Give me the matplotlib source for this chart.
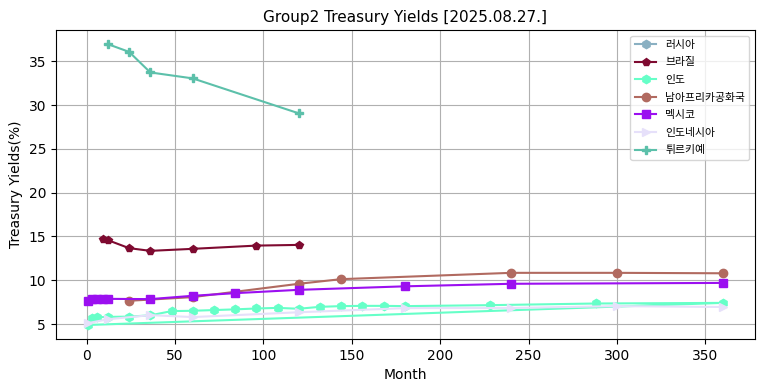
import matplotlib
matplotlib.use("Agg")
import matplotlib.pyplot as plt

plt.rcParams['font.family'] = ['DejaVu Sans', 'Noto Sans CJK KR']

title = "Group2 Treasury Yields [2025.08.27.]"

names = ["러시아", "브라질", "인도", "남아프리카공화국", "멕시코", "인도네시아", "튀르키예"]

russia_x = []
russia_y = []

brazil_x = [9, 12, 24, 36, 60, 96, 120]
brazil_y = [14.73, 14.58, 13.67, 13.36, 13.59, 13.96, 14.04]

india_x = [3, 6, 12, 24, 36, 48, 60, 72, 84, 96, 108, 120, 132, 144, 156, 168, 180, 228, 288, 360, 1]
india_y = [5.7, 5.78, 5.82, 5.85, 6.0, 6.48, 6.52, 6.6, 6.68, 6.78, 6.85, 6.75, 6.97, 7.05, 7.08, 7.08, 7.05, 7.16, 7.35, 7.42, 4.9]

safrica_x = [24, 60, 120, 144, 240, 300, 360]
safrica_y = [7.66, 8.08, 9.6, 10.13, 10.85, 10.85, 10.8]

mexico_x = [1, 3, 6, 9, 12, 36, 60, 84, 120, 180, 240, 360]
mexico_y = [7.66, 7.82, 7.85, 7.87, 7.88, 7.85, 8.23, 8.53, 8.91, 9.31, 9.6, 9.7]

indonesia_x = [0.5, 12, 36, 60, 120, 180, 240, 300, 360]
indonesia_y = [5.1, 5.55, 6.02, 5.8, 6.35, 6.82, 6.84, 7.05, 6.95]

turkey_x = [12, 24, 36, 60, 120]
turkey_y = [36.96, 36.08, 33.73, 33.05, 29.06]

series = [
    (russia_x, russia_y, '#8ab0c2', 'h'),
    (brazil_x, brazil_y, '#7e0a30', 'p'),
    (india_x, india_y, '#66ffc8', 'h'),
    (safrica_x, safrica_y, '#b16a60', 'o'),
    (mexico_x, mexico_y, '#9b0ff0', 's'),
    (indonesia_x, indonesia_y, '#e6e0fa', '>'),
    (turkey_x, turkey_y, '#5cc0aa', 'P'),
]

fig = plt.figure(figsize=(7.64, 3.91), dpi=100)
ax = fig.add_subplot(111)
fig.subplots_adjust(left=0.073, right=0.988, bottom=0.133, top=0.923)

for name, (xs, ys, c, m) in zip(names, series):
    ax.plot(xs, ys, color=c, marker=m, label=name, markersize=6, linewidth=1.5)

ax.set_title(title, fontsize=11)
ax.set_xlabel("Month", fontsize=10)
ax.set_ylabel("Treasury Yields(%)", fontsize=10)
ax.grid(True)
ax.legend(loc='upper right', fontsize=7.8, labelspacing=0.7)

fig.savefig("out.png", dpi=100)
